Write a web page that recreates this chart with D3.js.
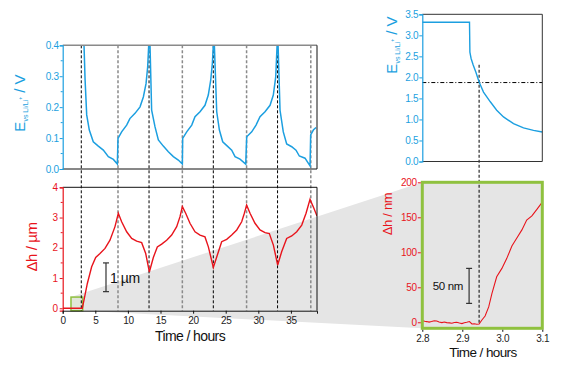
<!DOCTYPE html>
<html><head><meta charset="utf-8">
<script src="https://cdn.jsdelivr.net/npm/d3@7"></script>
<style>body{margin:0;background:#fff} text{font-family:"Liberation Sans",Arial,sans-serif}</style>
</head><body><svg id="c" width="566" height="365"></svg>
<script>
// ---------- data ----------
const dischargeStarts = [2.85, 13.24, 23.1, 32.95];   // black dashed lines
const chargeStarts = [8.48, 18.35, 28.2, 38.05];       // gray dashed lines

const potT = [3.2, 3.27, 3.43, 3.68, 4.08, 4.69, 5.46, 6.23, 7.0, 7.77, 8.38, 8.48, 9.04, 9.81, 10.3, 11.09, 11.86, 12.37, 12.78, 13.03, 13.19, 13.29,
  13.39, 13.64, 14.16, 14.67, 15.43, 16.2, 16.97, 17.73, 18.35, 18.4, 19.02, 19.79, 20.29, 21.06, 21.82, 22.33, 22.7, 22.95, 23.1, 23.18,
  23.26, 23.62, 24.03, 24.54, 25.25, 25.92, 26.43, 27.19, 28.07, 28.22, 28.99, 29.65, 30.26, 31.03, 31.8, 32.3, 32.67, 32.88, 32.96,
  33.03, 33.33, 33.83, 34.35, 35.12, 35.78, 36.29, 37.16, 37.93, 38.03, 38.44, 38.85];
const potE = [0.5, 0.4, 0.29, 0.175, 0.126, 0.088, 0.074, 0.061, 0.040, 0.031, 0.016, 0.099, 0.120, 0.142, 0.163, 0.180, 0.201, 0.233, 0.276, 0.330, 0.4, 0.5,
  0.4, 0.19, 0.136, 0.094, 0.074, 0.056, 0.040, 0.029, 0.016, 0.099, 0.120, 0.142, 0.169, 0.185, 0.206, 0.239, 0.287, 0.341, 0.4, 0.5,
  0.4, 0.185, 0.126, 0.088, 0.074, 0.061, 0.040, 0.032, 0.016, 0.104, 0.120, 0.142, 0.169, 0.185, 0.206, 0.239, 0.298, 0.4, 0.5,
  0.4, 0.19, 0.12, 0.081, 0.072, 0.061, 0.042, 0.035, 0.010, 0.11, 0.126, 0.134];

const heightT = [0, 3.01, 3.78, 4.44, 5.06, 5.72, 6.49, 7.25, 8.02, 8.53, 9.04, 9.81, 10.58, 11.34, 12.11, 12.73, 13.29,
  13.90, 14.51, 15.18, 15.94, 16.71, 17.48, 17.99, 18.35, 18.86, 19.52, 20.29, 21.06, 21.82, 22.34, 23.10,
  23.72, 24.38, 25.15, 25.92, 26.69, 27.45, 27.86, 28.21, 28.73, 29.49, 30.26, 31.03, 31.69, 32.31, 32.97,
  33.58, 34.35, 35.12, 35.89, 36.66, 37.32, 37.93, 38.54, 39.0];
const heightUm = [0, 0, 0.82, 1.37, 1.68, 1.81, 1.98, 2.25, 2.70, 3.14, 2.86, 2.53, 2.31, 2.22, 2.17, 1.81, 1.20,
  1.68, 2.03, 2.12, 2.25, 2.42, 2.70, 3.03, 3.36, 3.14, 2.81, 2.53, 2.42, 2.36, 2.03, 1.35,
  1.76, 2.20, 2.28, 2.42, 2.59, 2.86, 3.14, 3.41, 3.14, 2.81, 2.59, 2.50, 2.47, 2.09, 1.43,
  1.87, 2.31, 2.39, 2.53, 2.75, 3.14, 3.60, 3.30, 3.05];

const zoomPotT = [2.8, 2.918, 2.919, 2.922, 2.927, 2.934, 2.942, 2.953, 2.970, 2.986, 3.003, 3.028, 3.053, 3.078, 3.1];
const zoomPotE = [3.31, 3.31, 2.6, 2.45, 2.3, 2.12, 1.89, 1.65, 1.42, 1.22, 1.06, 0.90, 0.80, 0.74, 0.70];

const zoomHT = [2.800, 2.806, 2.811, 2.817, 2.823, 2.830, 2.836, 2.842, 2.849, 2.855, 2.861, 2.868, 2.874, 2.880, 2.886, 2.893, 2.899, 2.905, 2.911, 2.918, 2.924, 2.930, 2.936, 2.942,
  2.949, 2.957, 2.966, 2.974, 2.986, 2.999, 3.011, 3.024, 3.036, 3.049, 3.061, 3.074, 3.086, 3.099];
const zoomHnm = [2.4, 1.4, 1.0, 0.2, 1.0, 2.2, 1.9, 0.3, -0.5, 0.4, -0.5, -0.9, -1.4, -0.2, 0, -1.1, -1.9, -0.6, 0, 1.0, -2.4, -2.2, -2.9, -2.4,
  3.3, 9, 22, 41, 65, 77, 91, 109, 120, 132, 146, 152, 161, 171];

const leftXTicks = [0, 5, 10, 15, 20, 25, 30, 35];
const leftETicks = [0, 0.1, 0.2, 0.3, 0.4];
const leftHTicks = [0, 1, 2, 3, 4];
const rightXTicks = [2.8, 2.9, 3.0, 3.1];
const rightETicks = [0, 0.5, 1, 1.5, 2, 2.5, 3, 3.5];
const rightHTicks = [0, 50, 100, 150, 200];

const zoomBox = {t0: 1.27, t1: 3.07, h0: -0.08, h1: 0.37};
const markTime = 2.942, markE = 1.877;

// ---------- layout ----------
const blue = "#1c9fe0", red = "#e8141c", green = "#8fc13f", grayFill = "#e5e5e5", txt = "#222";
const svg = d3.select("#c");
const xL = d3.scaleLinear([0, 39], [62.7, 317]);
const yE = d3.scaleLinear([0, 0.4], [169, 45.3]);
const yH = d3.scaleLinear([-0.08, 4], [310.7, 187.3]);
const xR = d3.scaleLinear([2.8, 3.1], [422.3, 542.3]);
const yER = d3.scaleLinear([0, 3.5], [161.5, 14.3]);
const yHR = d3.scaleLinear([-8.6, 200], [328.3, 182.3]);

const defs = svg.append("defs");
function clip(id, x, y) {
  defs.append("clipPath").attr("id", id).append("rect")
    .attr("x", x.range()[0]).attr("y", y.range()[1])
    .attr("width", x.range()[1] - x.range()[0]).attr("height", y.range()[0] - y.range()[1]);
}
clip("cE", xL, yE); clip("cH", xL, yH); clip("cER", xR, yER); clip("cHR", xR, yHR);

// wedge
svg.append("polygon").attr("fill", grayFill)
  .attr("points", [[xL(zoomBox.t0), yH(zoomBox.h1)], [xR(2.8), yHR(200)], [xR(2.8), yHR(-8.6)], [xL(zoomBox.t1), yH(zoomBox.h0)]].map(p => p.join(",")).join(" "));

// inset background
svg.append("rect").attr("x", xR(2.8)).attr("y", yHR(200)).attr("width", xR(3.1) - xR(2.8)).attr("height", yHR(-8.6) - yHR(200)).attr("fill", grayFill);
// top right white background
svg.append("rect").attr("x", xR(2.8)).attr("y", yER(3.5)).attr("width", xR(3.1) - xR(2.8)).attr("height", yER(0) - yER(3.5)).attr("fill", "#fff");

// small zoom box
svg.append("rect").attr("x", xL(zoomBox.t0)).attr("y", yH(zoomBox.h1))
  .attr("width", xL(zoomBox.t1) - xL(zoomBox.t0)).attr("height", yH(zoomBox.h0) - yH(zoomBox.h1))
  .attr("fill", "#e2e6da").attr("stroke", green).attr("stroke-width", 1.5);

// vertical dashed lines
svg.selectAll(".dl").data(dischargeStarts).join("line")
  .attr("x1", d => xL(d)).attr("x2", d => xL(d)).attr("y1", yE(0.4)).attr("y2", yH(-0.08))
  .attr("stroke", "#000").attr("stroke-width", 1).attr("stroke-dasharray", "3,2");
svg.selectAll(".cl").data(chargeStarts).join("line")
  .attr("x1", d => xL(d)).attr("x2", d => xL(d)).attr("y1", yE(0.4)).attr("y2", yH(-0.08))
  .attr("stroke", "#8a8a8a").attr("stroke-width", 1.5).attr("stroke-dasharray", "3,2");

// right marker lines
svg.append("line").attr("x1", xR(markTime)).attr("x2", xR(markTime)).attr("y1", yER(2.3)).attr("y2", yHR(-2.4))
  .attr("stroke", "#000").attr("stroke-width", 1).attr("stroke-dasharray", "3,2");
svg.append("line").attr("x1", xR(2.8)).attr("x2", xR(3.1)).attr("y1", yER(markE)).attr("y2", yER(markE))
  .attr("stroke", "#000").attr("stroke-width", 1).attr("stroke-dasharray", "4,2,1,2");

// data lines
const ln = (x, y) => d3.line().x(d => x(d[0])).y(d => y(d[1]));
svg.append("path").attr("clip-path", "url(#cE)").attr("d", ln(xL, yE)(d3.zip(potT, potE)))
  .attr("fill", "none").attr("stroke", blue).attr("stroke-width", 1.5);
svg.append("path").attr("clip-path", "url(#cH)").attr("d", ln(xL, yH)(d3.zip(heightT, heightUm)))
  .attr("fill", "none").attr("stroke", red).attr("stroke-width", 1.4);
svg.append("path").attr("clip-path", "url(#cER)").attr("d", ln(xR, yER)(d3.zip(zoomPotT, zoomPotE)))
  .attr("fill", "none").attr("stroke", blue).attr("stroke-width", 1.4);
svg.append("path").attr("clip-path", "url(#cHR)").attr("d", ln(xR, yHR)(d3.zip(zoomHT, zoomHnm)))
  .attr("fill", "none").attr("stroke", red).attr("stroke-width", 1.1);

// frames
function hline(x0, x1, y, c, w) { svg.append("line").attr("x1", x0).attr("x2", x1).attr("y1", y).attr("y2", y).attr("stroke", c).attr("stroke-width", w); }
function vline(x, y0, y1, c, w) { svg.append("line").attr("x1", x).attr("x2", x).attr("y1", y0).attr("y2", y1).attr("stroke", c).attr("stroke-width", w); }
hline(xL(0), xL(39), yE(0.4), "#8a8a8a", 1.5);
vline(xL(39), yE(0.4), yE(0), "#111", 1);
hline(xL(0), xL(39), yE(0), "#111", 1);
hline(xL(0), xL(39), yH(4), "#111", 1);
vline(xL(39), yH(4), yH(-0.08), "#111", 1);
hline(xR(2.8), xR(3.1), yER(3.5), "#333", 1);
vline(xR(3.1), yER(3.5), yER(0), "#333", 1);
hline(xR(2.8), xR(3.1), yER(0), "#333", 1);

function styleAxis(g, lineColor, textColor) {
  g.select(".domain").attr("stroke", lineColor).attr("stroke-width", 1.2);
  g.selectAll(".tick line").attr("stroke", lineColor);
  g.selectAll(".tick text").attr("fill", textColor).attr("font-size", 10).attr("letter-spacing", "-0.3px")
    .style("font-family", '"Liberation Sans", Arial, sans-serif');
}
function minor(g, scale, vals, orient, color) {
  g.selectAll(null).data(vals).join("line")
    .attr(orient === "v" ? "y1" : "x1", d => scale(d)).attr(orient === "v" ? "y2" : "x2", d => scale(d))
    .attr(orient === "v" ? "x1" : "y1", 0).attr(orient === "v" ? "x2" : "y2", orient === "v" ? -2 : 2)
    .attr("stroke", color);
}

// left top y axis
let g = svg.append("g").attr("transform", `translate(${xL(0)},0)`)
  .call(d3.axisLeft(yE).tickValues(leftETicks).tickFormat(d3.format(".1f")).tickSize(3).tickPadding(1));
styleAxis(g, blue, blue);
minor(g, yE, [0.05, 0.15, 0.25, 0.35], "v", blue);

// left bottom y axis
g = svg.append("g").attr("transform", `translate(${xL(0)},0)`)
  .call(d3.axisLeft(yH).tickValues(leftHTicks).tickFormat(d3.format("d")).tickSize(3).tickPadding(2));
styleAxis(g, red, red);
minor(g, yH, [0.5, 1.5, 2.5, 3.5], "v", red);

// left bottom x axis
g = svg.append("g").attr("transform", `translate(0,${yH(-0.08)})`)
  .call(d3.axisBottom(xL).tickValues(leftXTicks).tickFormat(d3.format("d")).tickSize(3).tickPadding(3));
styleAxis(g, "#111", txt);
g.select(".domain").attr("stroke-width", 1);

// right top y axis
g = svg.append("g").attr("transform", `translate(${xR(2.8)},0)`)
  .call(d3.axisLeft(yER).tickValues(rightETicks).tickFormat(d3.format(".1f")).tickSize(3).tickPadding(1));
styleAxis(g, blue, blue);

// inset frame
svg.append("rect").attr("x", xR(2.8)).attr("y", yHR(200)).attr("width", xR(3.1) - xR(2.8)).attr("height", yHR(-8.6) - yHR(200))
  .attr("fill", "none").attr("stroke", green).attr("stroke-width", 3);

// right bottom y axis
g = svg.append("g").attr("transform", `translate(${xR(2.8) - 1.5},0)`)
  .call(d3.axisLeft(yHR).tickValues(rightHTicks).tickFormat(d3.format("d")).tickSize(3).tickPadding(1));
styleAxis(g, red, red);
g.select(".domain").remove();

// right bottom x axis
g = svg.append("g").attr("transform", `translate(0,${yHR(-8.6) + 1.5})`)
  .call(d3.axisBottom(xR).tickValues(rightXTicks).tickFormat(d3.format(".1f")).tickSize(2).tickPadding(3));
styleAxis(g, "#111", txt);
g.select(".domain").remove();

// scale bars
function scaleBar(x, y0, y1) {
  const c = "#333";
  vline(x, y0, y1, c, 1.2);
  hline(x - 3, x + 3, y0, c, 1.2);
  hline(x - 3, x + 3, y1, c, 1.2);
}
scaleBar(xL(6.64), yH(1.5), yH(0.55));
svg.append("text").attr("x", xL(6.64) + 4).attr("y", 283).attr("font-size", 14).attr("letter-spacing", "-0.4px").attr("fill", "#111").text("1 µm");
scaleBar(xR(2.917), yHR(77), yHR(27));
svg.append("text").attr("x", xR(2.917) - 6).attr("y", 290).attr("text-anchor", "end").attr("font-size", 11.5).attr("letter-spacing", "-0.3px").attr("fill", "#111").text("50 nm");

// axis titles
svg.append("text").attr("x", 190).attr("y", 341).attr("text-anchor", "middle").attr("font-size", 14).attr("letter-spacing", "-0.6px").attr("fill", "#111").text("Time / hours");
svg.append("text").attr("x", 483).attr("y", 357).attr("text-anchor", "middle").attr("font-size", 13.5).attr("letter-spacing", "-0.6px").attr("fill", "#111").text("Time / hours");

function eLabel(cx, cy) {
  const t = svg.append("text").attr("transform", `translate(${cx},${cy}) rotate(-90)`).attr("text-anchor", "middle").attr("fill", blue).attr("font-size", 15);
  t.append("tspan").text("E");
  t.append("tspan").attr("font-size", 7).attr("dy", 3).text("vs Li/Li");
  t.append("tspan").attr("font-size", 5).attr("dy", -6).text("+");
  t.append("tspan").attr("dy", 3).text(" / V");
}
eLabel(25, 103);
eLabel(397, 45);
svg.append("text").attr("transform", "translate(37,247) rotate(-90)").attr("text-anchor", "middle").attr("fill", red).attr("font-size", 15).attr("letter-spacing", "-0.4px").text("Δh / µm");
svg.append("text").attr("transform", "translate(392,214) rotate(-90)").attr("text-anchor", "middle").attr("fill", red).attr("font-size", 13).attr("letter-spacing", "-0.3px").text("Δh / nm");
</script></body></html>
